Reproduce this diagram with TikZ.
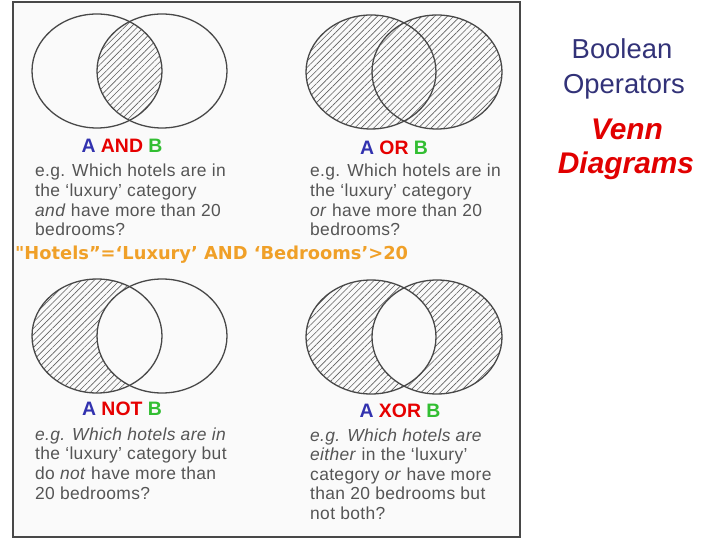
\documentclass[tikz,border=0pt]{standalone}
\usepackage{fontspec}
\setmainfont{Liberation Sans}
\newfontfamily\queryfont{DejaVu Sans}
\usetikzlibrary{patterns.meta}
\definecolor{inkgray}{RGB}{72,72,72}
\definecolor{hatchgray}{RGB}{95,95,95}
\definecolor{textgray}{RGB}{85,85,85}
\definecolor{paper}{RGB}{250,250,250}
\definecolor{labA}{RGB}{50,50,175}
\definecolor{labop}{RGB}{230,0,0}
\definecolor{labB}{RGB}{50,190,50}
\definecolor{hotelorange}{RGB}{240,160,40}
\definecolor{titleblue}{RGB}{50,50,120}
\definecolor{titlered}{RGB}{225,0,0}
\tikzset{
	oval/.style={x radius=65,y radius=57},
	ring/.style={draw=inkgray,line width=1.3bp},
	hatch/.style={pattern={Lines[angle=45,distance=4.5bp,line width=.6bp]},pattern color=hatchgray},
	note/.style={anchor=base west,inner sep=0,text=textgray,font=\fontsize{17.5}{20}\selectfont\addfontfeature{LetterSpace=2}},
	oplabel/.style={anchor=base,inner sep=0,font=\fontsize{19.5}{22}\selectfont\bfseries},
	title/.style={anchor=base,inner sep=0,text=titleblue,font=\fontsize{27.5}{30}\selectfont},
	redtitle/.style={anchor=base,inner sep=0,text=titlered,font=\fontsize{30}{32}\selectfont\bfseries\itshape},
}
\begin{document}
\begin{tikzpicture}[x=1bp,y=-1bp]
	\useasboundingbox(0,0)rectangle(720,540);
	\fill[paper](13,2)rectangle(520,537);
	\draw[inkgray,line width=1.2bp](13,2)rectangle(520,537);
	\coordinate(a1)at(97,71);\coordinate(b1)at(162,71);
	\coordinate(a2)at(371,72);\coordinate(b2)at(437,72);
	\coordinate(a3)at(97,336);\coordinate(b3)at(162,336);
	\coordinate(a4)at(371,337);\coordinate(b4)at(437,337);
	\begin{scope}
		\clip(a1)ellipse[oval];
		\fill[hatch](b1)ellipse[oval];
	\end{scope}
	\fill[hatch](a2)ellipse[oval] (b2)ellipse[oval];
	\begin{scope}
		\clip(a3)ellipse[oval];
		\fill[hatch](a3)ellipse[oval];
		\fill[paper](b3)ellipse[oval];
	\end{scope}
	\fill[hatch,even odd rule](a4)ellipse[oval] (b4)ellipse[oval];
	\foreach \p in {a1,b1,a2,b2,a3,b3,a4,b4}
		\draw[ring](\p)ellipse[oval];
	\node[oplabel](andlbl)at(122,153){\textcolor{labA}{A} \textcolor{labop}{AND} \textcolor{labB}{B}};
	\node[oplabel](orlbl)at(394,155){\textcolor{labA}{A} \textcolor{labop}{OR} \textcolor{labB}{B}};
	\node[oplabel](notlbl)at(122,415){\textcolor{labA}{A} \textcolor{labop}{NOT} \textcolor{labB}{B}};
	\node[oplabel](xorlbl)at(400,417){\textcolor{labA}{A} \textcolor{labop}{XOR} \textcolor{labB}{B}};
	\foreach \ln [count=\i] in {e.g. Which hotels are in,the ‘luxury’ category,\textit{and} have more than 20,bedrooms?}
		\node[note](andtxt\i)at(35,{177+19.6*(\i-1)}){\ln};
	\foreach \ln [count=\i] in {e.g. Which hotels are in,the ‘luxury’ category,\textit{or} have more than 20,bedrooms?}
		\node[note](ortxt\i)at(310,{177+19.6*(\i-1)}){\ln};
	\foreach \ln [count=\i] in {\textit{e.g. Which hotels are in},the ‘luxury’ category but,do \textit{not} have more than,20 bedrooms?}
		\node[note](nottxt\i)at(35,{440+19.8*(\i-1)}){\ln};
	\foreach \ln [count=\i] in {\textit{e.g. Which hotels are},\textit{either} in the ‘luxury’,category \textit{or} have more,than 20 bedrooms but,not both?}
		\node[note](xortxt\i)at(310,{441+19.6*(\i-1)}){\ln};
	\node[anchor=base west,inner sep=0,text=hotelorange,font=\queryfont\bfseries\fontsize{17.9}{20}\selectfont](query)at(15,260){"Hotels”=‘Luxury’ AND ‘Bedrooms’>20};
	\node[title](bool)at(622,59){Boolean};
	\node[title](oper)at(624,94){Operators};
	\node[redtitle](venn)at(627,140){Venn};
	\node[redtitle](diag)at(626,174){Diagrams};
\end{tikzpicture}
\end{document}
